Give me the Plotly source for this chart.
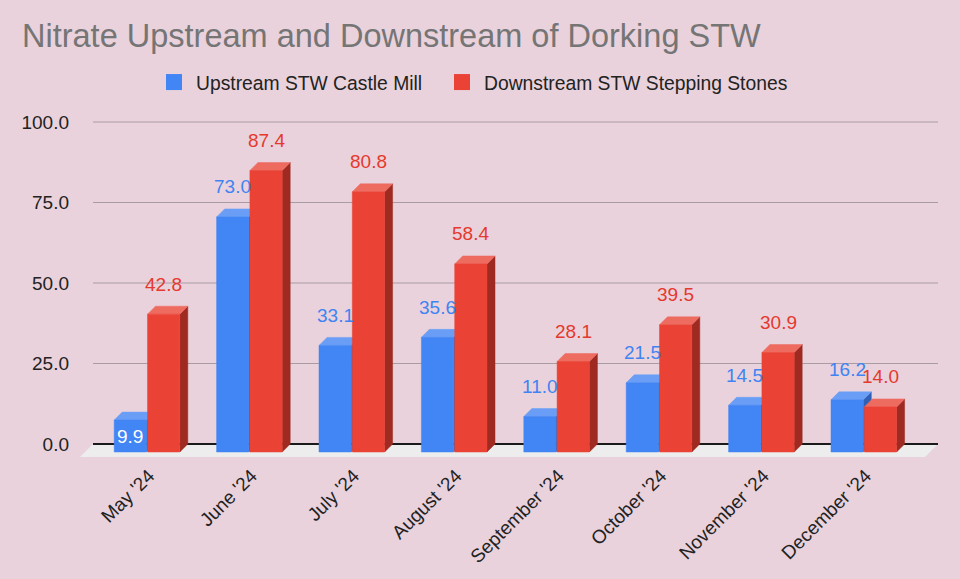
import plotly.graph_objects as go

# ---------------- data ----------------
months = ["May '24", "June '24", "July '24", "August '24",
          "September '24", "October '24", "November '24", "December '24"]
upstream = [9.9, 73.0, 33.1, 35.6, 11.0, 21.5, 14.5, 16.2]
downstream = [42.8, 87.4, 80.8, 58.4, 28.1, 39.5, 30.9, 14.0]
series_names = ["Upstream STW Castle Mill", "Downstream STW Stepping Stones"]
y_ticks = [0, 25, 50, 75, 100]
title_text = "Nitrate Upstream and Downstream of Dorking STW"

# ---------------- styling / geometry ----------------
W, H = 960, 579
ML, MR, MT, MB = 78, 20, 110, 119
PX_CAT = 102.4      # px per category
PX_UNIT = 3.22      # px per value unit
X0_PX = 155         # pixel x of category 0 (back plane)
Y0_PX = 444         # pixel y of value 0 (back plane)
BG = "#e9d2dc"
FONT = "Liberation Sans, Arial, sans-serif"

x_range = [(ML - X0_PX) / PX_CAT, (W - MR - X0_PX) / PX_CAT]
y_range = [(Y0_PX - (H - MB)) / PX_UNIT, (Y0_PX - MT) / PX_UNIT]

BW = 32.3 / PX_CAT          # bar width
GAP = 1.0 / PX_CAT          # gap between paired bars
DX = 8.0 / PX_CAT           # depth (x)
DY = 8.0 / PX_UNIT          # depth (y)
WALL_L = (93 - X0_PX) / PX_CAT
WALL_R = (938 - X0_PX) / PX_CAT
FLOOR_DX = 13.0 / PX_CAT
FLOOR_DY = 13.0 / PX_UNIT
INSIDE_LIMIT = 10           # labels of shorter bars go inside the bar
LEGEND_X = [152, 440]       # legend item left positions (px)

styles = [
    dict(front="#4285f4", top="#6a9ef6", side="#2f60b6", text="#3f84f2"),
    dict(front="#ea4335", top="#ee6b60", side="#9e2a21", text="#e5392d"),
]
legend_ids = ["legend", "legend2"]

fig = go.Figure()

# legend entries
for name, st, lg in zip(series_names, styles, legend_ids):
    fig.add_trace(go.Scatter(x=[None], y=[None], mode="markers", name=name,
                             legend=lg,
                             marker=dict(symbol="square", size=16, color=st["front"]),
                             hoverinfo="skip"))

annotations = []
for k, (vals, st) in enumerate(zip([upstream, downstream], styles)):
    fx, fy, tx, ty, sx, sy = [], [], [], [], [], []
    for i, v in enumerate(vals):
        c = i - DX
        x0 = c - GAP / 2 - BW if k == 0 else c + GAP / 2
        x1 = x0 + BW
        top_f = v - DY
        fx += [x0, x1, x1, x0, x0, None]
        fy += [-DY, -DY, top_f, top_f, -DY, None]
        tx += [x0, x1, x1 + DX, x0 + DX, x0, None]
        ty += [top_f, top_f, v, v, top_f, None]
        sx += [x1, x1 + DX, x1 + DX, x1, x1, None]
        sy += [-DY, 0, v, top_f, -DY, None]
        inside = v < INSIDE_LIMIT
        ann = dict(x=(x0 + x1) / 2, y=top_f, xref="x", yref="y",
                   text=f"{v:.1f}", showarrow=False, yanchor="middle",
                   font=dict(family=FONT, size=19,
                             color="white" if inside else st["text"]))
        ann["yshift"] = -v * PX_UNIT / 2 if inside else 30
        annotations.append(ann)
    for xs, ys, col in [(sx, sy, st["side"]), (tx, ty, st["top"]), (fx, fy, st["front"])]:
        fig.add_trace(go.Scatter(x=xs, y=ys, mode="lines", fill="toself",
                                 fillcolor=col, line=dict(color=col, width=0.5),
                                 hoverinfo="skip", showlegend=False))

shapes = [
    dict(type="path", xref="x", yref="y", layer="below",
         path=(f"M{WALL_L - FLOOR_DX},{-FLOOR_DY} L{WALL_L},0 L{WALL_R},0 "
               f"L{WALL_R - FLOOR_DX},{-FLOOR_DY} Z"),
         fillcolor="#ededed", line=dict(width=0)),
]
for t in y_ticks[1:]:
    shapes.append(dict(type="line", xref="x", yref="y", layer="below",
                       x0=WALL_L, x1=WALL_R, y0=t, y1=t,
                       line=dict(color="#a99ba2", width=1)))
shapes.append(dict(type="line", xref="x", yref="y", layer="below",
                   x0=WALL_L, x1=WALL_R, y0=0, y1=0,
                   line=dict(color="#1a1a1a", width=2)))

legend_common = dict(orientation="h", xref="container", xanchor="left",
                     y=1 - 82.5 / H, yref="container", yanchor="middle",
                     font=dict(family=FONT, size=19.3, color="#222222"),
                     itemwidth=34, bgcolor="rgba(0,0,0,0)")

fig.update_layout(
    width=W, height=H,
    margin=dict(l=ML, r=MR, t=MT, b=MB, autoexpand=False),
    paper_bgcolor=BG, plot_bgcolor=BG,
    font=dict(family=FONT, color="#222222"),
    title=dict(text=title_text, x=22 / W, xanchor="left", xref="container",
               y=1 - 36 / H, yanchor="middle", yref="container",
               font=dict(family=FONT, size=32.5, color="#757575")),
    legend=dict(x=LEGEND_X[0] / W, **legend_common),
    legend2=dict(x=LEGEND_X[1] / W, **legend_common),
    xaxis=dict(range=x_range, tickmode="array", tickvals=list(range(len(months))),
               ticktext=months, tickangle=-45, showgrid=False, zeroline=False,
               showline=False, ticks="", fixedrange=True,
               ticklabelstandoff=0, ticklabelshift=-6,
               tickfont=dict(family=FONT, size=19, color="#222222")),
    yaxis=dict(range=y_range, tickmode="array", tickvals=y_ticks,
               ticktext=[f"{t:.1f}" for t in y_ticks], showgrid=False,
               zeroline=False, showline=False, ticks="", ticklabelstandoff=8,
               fixedrange=True,
               tickfont=dict(family=FONT, size=19, color="#222222")),
    shapes=shapes,
    annotations=annotations,
    showlegend=True,
)

fig.write_html("out.html",
               config={"displayModeBar": False},
               post_script="document.body.style.margin='0';"
                           "document.body.style.overflow='hidden';")
